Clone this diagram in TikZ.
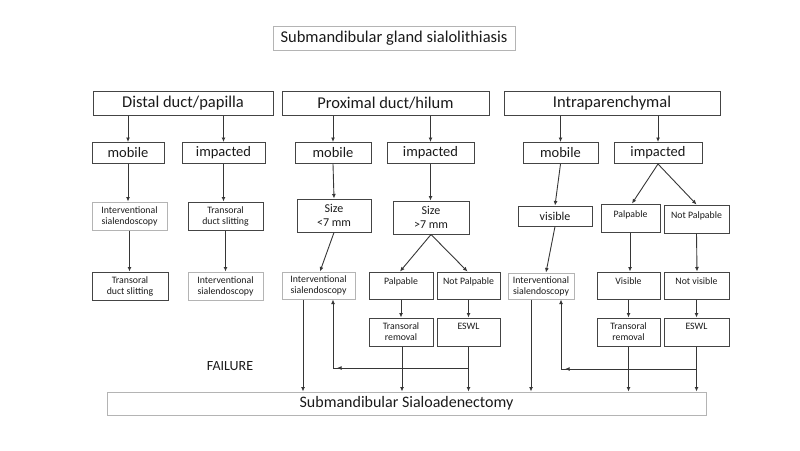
\documentclass[tikz,border=0pt]{standalone}
\usepackage{fontspec}
\setmainfont{Carlito}
\usetikzlibrary{arrows.meta}
\definecolor{boxdark}{HTML}{444444}
\definecolor{boxlight}{HTML}{B4B4B4}
\definecolor{txt}{HTML}{1A1A1A}
\definecolor{linec}{HTML}{363636}
\begin{document}
\begin{tikzpicture}[x=1pt,y=-1pt,
  box/.style={draw=boxdark, line width=1pt, inner sep=0pt, align=center, text=txt},
  lbox/.style={box, draw=boxlight},
  big/.style={font=\fontsize{16.5}{18}\selectfont},
  mid/.style={font=\fontsize{14.5}{16}\selectfont},
  sml/.style={font=\fontsize{9.8}{11}\selectfont},
  szf/.style={font=\fontsize{12}{13.5}\selectfont},
  arr/.style={draw=linec, line width=0.9pt, -{Latex[length=4.5pt,width=4pt]}},
  ln/.style={draw=linec, line width=0.9pt}]
\useasboundingbox (0,0) rectangle (800,450);
% title
\node[lbox, big, minimum width=242pt, minimum height=24pt] (title) at (394,38) {Submandibular gland sialolithiasis};
% headers
\node[box, big, minimum width=180pt, minimum height=24pt] (distal) at (183,103) {Distal duct/papilla};
\node[box, big, minimum width=207pt, minimum height=24pt] (prox) at (385.5,103) {Proximal duct/hilum};
\node[box, big, minimum width=216pt, minimum height=24pt] (intra) at (612,103) {Intraparenchymal};
% row 2
\node[box, mid, minimum width=72pt, minimum height=21pt] (dmob) at (128,153) {mobile};
\node[box, mid, minimum width=83pt, minimum height=21pt] (dimp) at (223.5,153) {impacted};
\node[box, mid, minimum width=76pt, minimum height=21pt] (pmob) at (333,153) {mobile};
\node[box, mid, minimum width=87pt, minimum height=21pt] (pimp) at (430.5,153) {impacted};
\node[box, mid, minimum width=75pt, minimum height=21pt] (imob) at (560.5,153) {mobile};
\node[box, mid, minimum width=88pt, minimum height=21pt] (iimp) at (658,153) {impacted};
% row 3
\node[lbox, sml, minimum width=75pt, minimum height=28pt] (dint1) at (129.5,216) {Interventional\\sialendoscopy};
\node[box, sml, minimum width=75pt, minimum height=28pt] (dtds1) at (225.5,216) {Transoral\\duct slitting};
\node[box, szf, minimum width=74pt, minimum height=33pt] (psz1) at (334,215.5) {Size\\<7 mm};
\node[box, szf, minimum width=76pt, minimum height=33pt] (psz2) at (431,217.5) {Size\\>7 mm};
\node[box, szf, minimum width=74pt, minimum height=20pt] (ivis) at (555,216) {visible};
\node[box, sml, minimum width=59pt, minimum height=28pt, text depth=8pt] (ipal) at (630.5,218) {Palpable};
\node[box, sml, minimum width=65pt, minimum height=28pt, text depth=8pt] (inpal) at (696.5,219) {Not Palpable};
% row 4
\node[box, sml, minimum width=76pt, minimum height=28pt] (dtds2) at (130,286) {Transoral\\duct slitting};
\node[lbox, sml, minimum width=75pt, minimum height=28pt] (dint2) at (225.5,286) {Interventional\\sialendoscopy};
\node[lbox, sml, minimum width=73pt, minimum height=27pt] (pint) at (318.5,285.5) {Interventional\\sialendoscopy};
\node[box, sml, minimum width=64pt, minimum height=27pt, text depth=8pt] (ppal) at (401,285.5) {Palpable};
\node[box, sml, minimum width=63pt, minimum height=27pt, text depth=8pt] (pnpal) at (468.5,285.5) {Not Palpable};
\node[lbox, sml, minimum width=66pt, minimum height=26pt] (iint) at (541,286) {Interventional\\sialendoscopy};
\node[box, sml, minimum width=63pt, minimum height=27pt, text depth=8pt] (ivis2) at (628.5,285.5) {Visible};
\node[box, sml, minimum width=65pt, minimum height=27pt, text depth=8pt] (invis) at (696.5,285.5) {Not visible};
% row 5
\node[box, sml, minimum width=64pt, minimum height=28pt] (ptr) at (401,332) {Transoral\\removal};
\node[box, sml, minimum width=63pt, minimum height=28pt, text depth=11pt] (pesw) at (468.5,332) {ESWL};
\node[box, sml, minimum width=63pt, minimum height=28pt] (itr) at (628.5,332) {Transoral\\removal};
\node[box, sml, minimum width=65pt, minimum height=28pt, text depth=11pt] (iesw) at (696.5,332) {ESWL};
% bottom
\node[lbox, big, font=\fontsize{16}{18}\selectfont, minimum width=599pt, minimum height=23pt] (sialo) at (406.5,403.5) {Submandibular Sialoadenectomy};
\node[text=txt, font=\fontsize{14}{16}\selectfont] (fail) at (230,366) {FAILURE};
% arrows header -> row2
\draw[arr] (distal.south -| dmob.north) -- (dmob.north);
\draw[arr] (distal.south -| dimp.north) -- (dimp.north);
\draw[arr] (prox.south -| pmob.north) -- (pmob.north);
\draw[arr] (prox.south -| pimp.north) -- (pimp.north);
\draw[arr] (intra.south -| imob.north) -- (imob.north);
\draw[arr] (intra.south -| iimp.north) -- (iimp.north);
% row2 -> row3
\draw[arr] (dmob.south) -- (dmob.south |- dint1.north);
\draw[arr] (dimp.south) -- (dimp.south |- dtds1.north);
\draw[arr] (pmob.south) -- (psz1.north);
\draw[arr] (pimp.south) -- (pimp.south |- psz2.north);
\draw[arr] (imob.south) -- (ivis.north);
\draw[arr] (iimp.south) -- ([xshift=1.5pt]ipal.north);
\draw[arr] (iimp.south) -- (inpal.north);
% row3 -> row4
\draw[arr] (dint1.south) -- (dint1.south |- dtds2.north);
\draw[arr] (dtds1.south) -- (dtds1.south |- dint2.north);
\draw[arr] (psz1.south) -- ([xshift=1.5pt]pint.north);
\draw[arr] (psz2.south) -- ([xshift=-1pt]ppal.north);
\draw[arr] (psz2.south) -- ([xshift=-1pt]pnpal.north);
\draw[arr] (ivis.south) -- ([xshift=5pt]iint.north);
\draw[arr] ([xshift=-0.5pt]ipal.south) -- ([xshift=1.5pt]ivis2.north);
\draw[arr] (inpal.south) -- ([xshift=0.5pt]invis.north);
% row4 -> row5
\draw[arr] (ppal.south) -- (ptr.north);
\draw[arr] (pnpal.south) -- (pesw.north);
\draw[arr] (ivis2.south) -- (itr.north);
\draw[arr] (invis.south) -- (iesw.north);
% to sialoadenectomy
\draw[arr] ([xshift=-15.5pt]pint.south) -- ([xshift=-15.5pt]pint.south |- sialo.north);
\draw[arr] ([xshift=1pt]ptr.south) -- ([xshift=1pt]ptr.south |- sialo.north);
\draw[arr] (pesw.south) -- (pesw.south |- sialo.north);
\draw[arr] ([xshift=-10pt]iint.south) -- ([xshift=-10pt]iint.south |- sialo.north);
\draw[arr] (itr.south) -- (itr.south |- sialo.north);
\draw[arr] (iesw.south) -- (iesw.south |- sialo.north);
% failure loops
\coordinate (pf1) at (468.5,368);
\coordinate (pf2) at (333,368);
\draw[ln] (pf1) -- (pf2);
\draw[arr] (pf1) -- ([xshift=4pt]pf2);
\draw[arr] (pf2) -- (pint.south -| pf2);
\coordinate (if1) at (696.5,369);
\coordinate (if2) at (561,369);
\draw[ln] (if1) -- (if2);
\draw[arr] (if1) -- ([xshift=4pt]if2);
\draw[arr] (if2) -- (iint.south -| if2);
\end{tikzpicture}
\end{document}
